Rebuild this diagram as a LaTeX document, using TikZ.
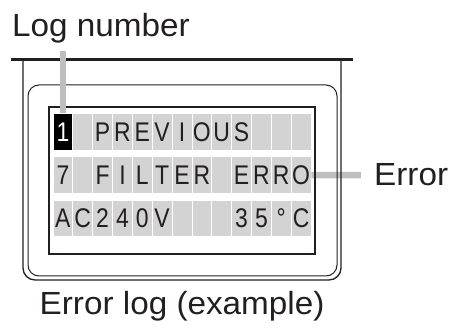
\documentclass[tikz,border=0pt]{standalone}
\usepackage{fontspec}
\newfontfamily\labelfont{Liberation Sans}[FakeStretch=1.04]
\newfontfamily\lcdfont{Liberation Sans}[FakeStretch=0.85]
\usetikzlibrary{calc}
\definecolor{ink}{RGB}{35,31,32}
\definecolor{cellgray}{RGB}{211,211,211}
\definecolor{leadgray}{RGB}{188,190,192}

\begin{document}
\begin{tikzpicture}
	[x=1pt,y=-1pt,
	 frame/.style={ink,line width=1.3pt},
	 cell/.style={fill=cellgray,draw=white,line width=0.8pt,
	   minimum width=19.85pt,minimum height=36.7pt,inner sep=0pt,
	   text height=19.3pt,text depth=0pt,text=ink,
	   font=\lcdfont\fontsize{27}{27}\selectfont},
	 leader/.style={leadgray,line width=6.5pt},
	 label/.style={inner sep=0pt,anchor=base west,text=ink,
	   font=\labelfont\fontsize{32}{32}\selectfont}]
	\useasboundingbox (0,0) rectangle (459,329);

	% labels
	\node[label] (LN) at (12,36.7) {Log number};
	\node[label] (E) at (374,186) {Error};
	\node[label] (EL) at (39.5,314.3) {Error log (example)};

	% display cells
	\node[cell,fill=black,text=white] (R1-1) at (62.9,131.7) {1};
	\foreach \ch [count=\c from 2] in {{},P,R,E,V,I,O,U,S,{},{},{}}
		\node[cell] (R1-\c) at ({43.05+19.85*\c},131.7) {\ch};
	\foreach \ch [count=\c] in {7,{},F,I,L,T,E,R,{},E,R,R,O}
		\node[cell] (R2-\c) at ({43.05+19.85*\c},175) {\ch};
	\foreach \ch [count=\c] in {A,C,2,4,0,V,{},{},{},3,5,°,C}
		\node[cell] (R3-\c) at ({43.05+19.85*\c},218.3) {\ch};

	% leader to the error text
	\draw[leader] (R2-13.east) -- ($(E.west)+(-13,0)$);

	% screen and housing
	\draw[frame,line width=1.5pt] (49,107) rectangle (315,254);
	\draw[frame,line width=1pt,rounded corners=11] (28,85) rectangle (337,276);
	\draw[frame,rounded corners=12] (23,60) -- (23,280) -- (341,280) -- (341,60);
	\draw[ink,line width=3pt] (11,60) -- (353,60);

	% leader to the log number
	\draw[leader] (R1-1.north) -- ($(R1-1.north |- LN.south)+(0,7)$);

\end{tikzpicture}
\end{document}
